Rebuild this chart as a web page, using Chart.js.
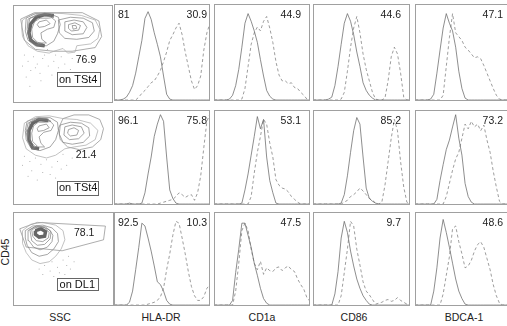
<!DOCTYPE html>
<html>
<head>
<meta charset="utf-8">
<script src="https://cdn.jsdelivr.net/npm/chart.js@4.4.1/dist/chart.umd.min.js"></script>
<style>
  body { margin: 0; width: 507px; height: 326px; overflow: hidden; position: relative; background: #fff;
         font-family: "Liberation Sans", Arial, sans-serif; }
  canvas { position: absolute; }
  .axlab { position: absolute; font-size: 10.5px; color: #222; transform: translate(-50%, -50%); white-space: nowrap; }
  .rot { transform: translate(-50%, -50%) rotate(-90deg); }
</style>
</head>
<body>
<script>
// ---- data ----
const bins = Array.from({ length: 32 }, (_, i) => i);
const markers = ['HLA-DR', 'CD1a', 'CD86', 'BDCA-1'];
const gates = ['on TSt4', 'on TSt4', 'on DL1'];
const gateValues = ['76.9', '21.4', '78.1'];

// percentages written in the histogram panels, per row
const leftValues = ['81', '96.1', '92.5'];
const rightValues = [
  ['30.9', '44.9', '44.6', '47.1'],
  ['75.8', '53.1', '85.2', '73.2'],
  ['10.3', '47.5', '9.7', '48.6']
];

// histogram counts (solid = control, dashed = stained), normalised 0..1
const r1HlaSolid = [0,0,0,0.01,0.03,0.08,0.15,0.28,0.45,0.62,0.85,0.92,0.84,0.7,0.58,0.45,0.25,0.06,0.01,0,0,0,0,0,0,0,0,0,0,0,0,0];
const r1HlaDash  = [0,0,0,0,0,0,0,0,0.03,0.07,0.1,0.14,0.18,0.2,0.25,0.31,0.4,0.5,0.62,0.68,0.75,0.8,0.68,0.5,0.35,0.2,0.11,0.15,0.25,0.52,0.7,0.8];
const r1Cd1aSolid = [0,0,0,0,0,0.01,0.05,0.15,0.32,0.55,0.8,0.9,0.82,0.72,0.6,0.42,0.25,0.1,0.04,0.01,0,0,0,0,0,0,0,0,0,0,0,0];
const r1Cd1aDash  = [0,0,0,0,0,0,0,0,0,0.01,0.12,0.35,0.58,0.7,0.76,0.72,0.82,0.87,0.75,0.6,0.4,0.26,0.2,0.2,0.17,0.18,0.13,0.12,0.08,0.05,0.01,0];
const r1Cd86Solid = [0,0,0,0,0,0.01,0.03,0.15,0.35,0.58,0.8,0.9,0.82,0.68,0.5,0.35,0.18,0.1,0.05,0.02,0,0,0,0,0,0,0,0,0,0,0,0];
const r1Cd86Dash  = [0,0,0,0,0,0,0,0,0,0.01,0.08,0.3,0.55,0.75,0.87,0.7,0.48,0.32,0.2,0.08,0.01,0,0,0.02,0.2,0.45,0.55,0.48,0.28,0.03,0,0];
const r1BdcaSolid = [0,0,0,0,0,0.01,0.06,0.28,0.52,0.75,0.9,0.8,0.72,0.55,0.3,0.12,0.02,0,0,0,0,0,0,0,0,0,0,0,0,0,0,0];
const r1BdcaDash  = [0,0,0,0,0,0,0,0,0,0.05,0.35,0.65,0.9,0.7,0.66,0.62,0.55,0.52,0.48,0.44,0.45,0.43,0.36,0.28,0.2,0.12,0.05,0.01,0,0,0,0];

const r2HlaSolid = [0,0,0,0,0,0.01,0,0,0,0.01,0.12,0.32,0.5,0.72,0.85,0.95,0.88,0.5,0.15,0.06,0.01,0,0,0,0,0,0,0,0,0,0,0];
const r2HlaDash  = [0,0,0,0,0,0,0,0,0,0,0,0,0,0,0,0.01,0.02,0.03,0.04,0.05,0.08,0.12,0.1,0.07,0.09,0.1,0.04,0.12,0.3,0.6,0.88,0.96];
const r2Cd1aSolid = [0,0,0,0,0,0,0,0,0,0.01,0.15,0.32,0.52,0.72,0.93,0.8,0.9,0.5,0.25,0.12,0.01,0,0,0,0,0,0,0,0,0,0,0];
const r2Cd1aDash  = [0,0,0,0,0,0,0,0,0,0,0,0,0.08,0.33,0.55,0.72,0.9,0.85,0.65,0.5,0.26,0.2,0.17,0.16,0.13,0.08,0.05,0.02,0,0,0,0];
const r2Cd86Solid = [0,0,0,0,0,0,0,0,0,0.01,0.1,0.3,0.55,0.78,0.92,0.85,0.5,0.17,0.06,0.03,0.01,0,0,0,0,0,0,0,0,0,0,0];
const r2Cd86Dash  = [0,0,0,0,0,0,0,0,0,0,0.02,0.04,0.08,0.1,0.13,0.17,0.14,0.1,0.06,0.04,0.01,0,0.02,0.2,0.45,0.7,0.9,0.78,0.45,0.18,0.02,0];
const r2BdcaSolid = [0,0,0,0,0,0,0,0.05,0.25,0.42,0.58,0.68,0.82,0.95,0.7,0.52,0.22,0.08,0.02,0,0,0,0,0,0,0,0,0,0,0,0,0];
const r2BdcaDash  = [0,0,0,0,0,0,0,0,0,0,0.08,0.22,0.36,0.48,0.55,0.7,0.85,0.8,0.88,0.82,0.85,0.78,0.84,0.68,0.55,0.35,0.18,0.03,0,0,0,0];

const r3HlaSolid = [0,0,0,0,0,0.03,0.15,0.38,0.62,0.88,0.85,0.72,0.58,0.42,0.25,0.22,0.15,0.05,0.01,0,0,0,0,0,0,0,0,0,0,0,0,0];
const r3HlaDash  = [0,0,0,0,0,0,0,0,0,0,0,0.01,0.02,0.03,0.05,0.09,0.18,0.38,0.55,0.75,0.9,0.88,0.72,0.55,0.36,0.2,0.1,0.05,0.05,0.09,0.18,0.22];
const r3Cd1aSolid = [0,0,0,0,0,0,0.05,0.35,0.6,0.88,0.88,0.75,0.62,0.45,0.32,0.18,0.07,0.02,0,0,0,0,0,0,0,0,0,0,0,0,0,0];
const r3Cd1aDash  = [0,0,0,0,0,0,0,0.15,0.45,0.8,0.88,0.8,0.6,0.45,0.38,0.47,0.33,0.4,0.37,0.36,0.4,0.41,0.37,0.4,0.42,0.38,0.36,0.28,0.22,0.17,0.08,0.04];
const r3Cd86Solid = [0,0,0,0,0,0,0,0.12,0.36,0.72,0.9,0.78,0.58,0.42,0.28,0.18,0.1,0.05,0.01,0,0,0,0,0,0,0,0,0,0,0,0,0];
const r3Cd86Dash  = [0,0,0,0,0,0,0,0,0,0.1,0.35,0.6,0.9,0.85,0.6,0.43,0.25,0.15,0.11,0.06,0.01,0.02,0.03,0.05,0.06,0.04,0.05,0.08,0.05,0.03,0.01,0];
const r3BdcaSolid = [0,0,0,0,0,0,0.15,0.4,0.72,0.92,0.78,0.62,0.45,0.28,0.15,0.07,0.01,0,0,0,0,0,0,0,0,0,0,0,0,0,0,0];
const r3BdcaDash  = [0,0,0,0,0,0,0,0,0,0.12,0.32,0.52,0.82,0.85,0.68,0.55,0.4,0.42,0.48,0.58,0.65,0.68,0.62,0.5,0.38,0.22,0.1,0.02,0,0,0,0];

const histRows = [
  [[r1HlaSolid, r1HlaDash], [r1Cd1aSolid, r1Cd1aDash], [r1Cd86Solid, r1Cd86Dash], [r1BdcaSolid, r1BdcaDash]],
  [[r2HlaSolid, r2HlaDash], [r2Cd1aSolid, r2Cd1aDash], [r2Cd86Solid, r2Cd86Dash], [r2BdcaSolid, r2BdcaDash]],
  [[r3HlaSolid, r3HlaDash], [r3Cd1aSolid, r3Cd1aDash], [r3Cd86Solid, r3Cd86Dash], [r3BdcaSolid, r3BdcaDash]]
];

const r1Gate = [[4,9],[19,2],[71,2],[89,11],[92,28],[85,40],[60,44],[40,44],[20,42],[8,32],[4,9]];
const r1Loops = [
  [[6,10],[15,4],[30,2],[50,3],[70,5],[85,10],[90,20],[88,30],[80,36],[65,38],[63,45],[55,46],[50,41],[40,44],[35,46],[22,44],[12,38],[6,28],[5,18],[6,10]],
  [[10,8],[20,3],[35,3],[45,7],[47,15],[44,25],[40,33],[32,38],[20,38],[12,32],[9,22],[10,8]],
  [[14,8],[24,5],[36,6],[42,11],[40,18],[33,20],[26,24],[27,31],[32,35],[20,35],[14,28],[12,18],[14,8]],
  [[12,9],[22,4],[34,4],[40,7],[34,8],[25,8],[19,12],[16,20],[17,29],[22,34],[28,36],[20,37],[13,30],[11,20],[12,9]],
  [[24,12],[32,10],[36,14],[30,17],[24,18],[22,15],[24,12]],
  [[45,10],[58,7],[72,8],[82,13],[84,22],[78,29],[65,31],[52,30],[46,24],[45,10]],
  [[52,12],[62,10],[72,12],[76,18],[72,25],[60,26],[52,22],[52,12]],
  [[56,15],[63,13],[69,16],[67,21],[59,22],[56,19],[56,15]],
  [[60,16],[64,16],[65,19],[61,20],[60,16]]
];
const r1Ridge = [[40,5],[30,4],[21,7],[15,14],[13,24],[15,32],[22,37],[30,38]];
const r1Dots = [[8,48],[12,55],[18,50],[22,58],[28,52],[34,60],[40,55],[15,65],[45,62],[25,68],[52,58],[10,72],[38,70],[30,48],[48,50],[20,62],[58,64],[6,60],[42,48],[33,42],[60,52],[26,76],[14,82]];

const r2Gate = [[50,5],[62,1],[78,1],[90,6],[94,16],[91,28],[82,36],[68,39],[55,36],[47,28],[45,16],[50,5]];
const r2Loops = [
  [[8,10],[20,3],[35,2],[50,5],[65,6],[80,10],[88,18],[85,28],[75,34],[62,36],[52,38],[42,45],[32,48],[20,45],[10,38],[6,26],[8,10]],
  [[11,8],[22,4],[36,4],[44,9],[45,18],[42,28],[36,36],[25,40],[15,37],[10,28],[9,18],[11,8]],
  [[14,9],[24,6],[35,7],[40,12],[37,18],[29,20],[24,25],[26,32],[30,36],[20,36],[14,29],[12,19],[14,9]],
  [[12,10],[21,5],[32,5],[37,8],[31,9],[23,9],[18,13],[16,21],[17,30],[22,35],[18,37],[12,30],[10,20],[12,10]],
  [[24,13],[32,11],[35,15],[29,18],[23,19],[22,16],[24,13]],
  [[47,12],[58,9],[70,10],[78,15],[79,24],[72,31],[60,33],[50,31],[46,22],[47,12]],
  [[52,14],[60,12],[70,14],[73,21],[67,27],[57,28],[51,23],[52,14]],
  [[56,17],[62,15],[67,18],[65,23],[58,24],[55,21],[56,17]]
];
const r2Ridge = [[34,7],[24,6],[17,10],[13,18],[13,28],[17,37],[24,38]];
const r2Dots = [[8,46],[14,52],[20,48],[26,55],[32,50],[38,58],[44,52],[16,62],[48,60],[28,64],[54,56],[12,68],[36,66],[60,48],[22,72],[42,70],[6,56],[50,44]];

const r3Gate = [[3,8],[22,1],[96,5],[94,20],[49,32],[10,28],[3,8]];
const r3Loops = [
  [[6,10],[15,3],[28,1],[42,4],[50,10],[52,20],[48,30],[42,38],[35,44],[25,46],[16,42],[10,34],[6,24],[6,10]],
  [[9,10],[17,5],[28,4],[38,7],[44,13],[45,22],[40,30],[33,36],[24,38],[16,34],[11,26],[9,18],[9,10]],
  [[12,10],[19,6],[28,6],[35,9],[39,15],[38,22],[33,28],[25,31],[18,28],[13,21],[12,10]],
  [[14,9],[21,5],[31,6],[37,11],[36,19],[30,25],[22,26],[16,21],[14,9]],
  [[16,9],[22,6],[30,7],[35,12],[34,18],[28,22],[21,21],[17,16],[16,9]]
];
const r3Ridge = [[20,10],[26,8],[31,11],[30,16],[24,17],[20,14],[20,10]];
const r3Dots = [[30,48],[38,44],[44,50],[50,42],[54,48],[36,54],[46,56],[56,38],[24,52],[40,60],[58,52],[28,58],[52,58],[62,44]];

const contourRows = [
  { gate: r1Gate, loops: r1Loops, ridge: r1Ridge, dots: r1Dots },
  { gate: r2Gate, loops: r2Loops, ridge: r2Ridge, dots: r2Dots },
  { gate: r3Gate, loops: r3Loops, ridge: r3Ridge, dots: r3Dots }
];

// ---- layout ----
const histCols = [{ x: 114, w: 96 }, { x: 214, w: 96 }, { x: 313, w: 97 }, { x: 415, w: 97 }];
const histRowsPos = [{ y: 4, h: 97 }, { y: 110, h: 95 }, { y: 212, h: 94 }];
const rightInset = [3, 9, 9, 9];
// yMin shifts the drawn data so the frame can sit where the picture has it
const contourPos = [
  { x: 13, y: 5, w: 100, h: 98, yMin: -2, val: [75, 54], box: [43, 67, 47, 15] },
  { x: 13, y: 110, w: 100, h: 95, yMin: 0, val: [75, 45], box: [44, 73, 45, 15] },
  { x: 13, y: 212, w: 101, h: 94, yMin: -6, val: [73, 13], box: [43, 62, 45, 13] }
];

const FONT = '"Liberation Sans", Arial, sans-serif';

const frame = {
  id: 'frame',
  afterDraw(chart) {
    const ctx = chart.ctx;
    ctx.save();
    ctx.strokeStyle = '#a0a0a0';
    ctx.lineWidth = 1;
    ctx.strokeRect(0.5, 0.5, chart.width - 1, chart.height - 1);
    ctx.restore();
  }
};

const panelText = {
  id: 'panelText',
  afterDraw(chart, args, opts) {
    const ctx = chart.ctx;
    ctx.save();
    ctx.fillStyle = '#222';
    ctx.font = '10.5px ' + FONT;
    ctx.textBaseline = 'middle';
    (opts.items || []).forEach(it => {
      ctx.textAlign = it.align;
      ctx.fillText(it.text, it.x, it.y);
    });
    (opts.boxes || []).forEach(b => {
      const xs = chart.scales.x, ys = chart.scales.y;
      const x0 = xs.getPixelForValue(b.r[0]), y0 = ys.getPixelForValue(b.r[1]);
      const x1 = xs.getPixelForValue(b.r[0] + b.r[2]), y1 = ys.getPixelForValue(b.r[1] + b.r[3]);
      ctx.fillStyle = '#fff';
      ctx.fillRect(x0, y0, x1 - x0, y1 - y0);
      ctx.strokeStyle = '#666';
      ctx.lineWidth = 1;
      ctx.strokeRect(Math.round(x0) + 0.5, Math.round(y0) + 0.5, Math.round(x1 - x0), Math.round(y1 - y0));
      ctx.fillStyle = '#111';
      ctx.font = '11px ' + FONT;
      ctx.textAlign = 'center';
      ctx.fillText(b.text, (x0 + x1) / 2, (y0 + y1) / 2 + 0.5);
    });
    (opts.values || []).forEach(v => {
      ctx.fillStyle = '#222';
      ctx.font = '10.5px ' + FONT;
      ctx.textAlign = 'center';
      ctx.fillText(v.text, chart.scales.x.getPixelForValue(v.at[0]), chart.scales.y.getPixelForValue(v.at[1]));
    });
    ctx.restore();
  }
};

function makeCanvas(x, y, w, h) {
  const cv = document.createElement('canvas');
  cv.width = w; cv.height = h;
  cv.style.left = x + 'px'; cv.style.top = y + 'px';
  document.body.appendChild(cv);
  return cv;
}

const baseOpts = {
  responsive: false,
  animation: false,
  events: [],
  layout: { padding: 0 }
};

// histograms
histRows.forEach((row, ri) => {
  row.forEach((pair, ci) => {
    const c = histCols[ci], r = histRowsPos[ri];
    const items = [{ text: rightValues[ri][ci], x: c.w - rightInset[ci], y: 11, align: 'right' }];
    if (ci === 0) items.push({ text: leftValues[ri], x: 4, y: 11, align: 'left' });
    new Chart(makeCanvas(c.x, r.y, c.w, r.h), {
      type: 'line',
      data: {
        labels: bins,
        datasets: [
          { data: pair[0], borderColor: '#686868', borderWidth: 0.75, pointRadius: 0, tension: 0 },
          { data: pair[1], borderColor: '#7c7c7c', borderWidth: 0.75, borderDash: [3, 2.5], pointRadius: 0, tension: 0 }
        ]
      },
      options: Object.assign({}, baseOpts, {
        plugins: { legend: { display: false }, tooltip: { enabled: false }, panelText: { items } },
        scales: {
          x: { display: false },
          y: { display: false, min: -0.01, max: 1 }
        }
      }),
      plugins: [frame, panelText]
    });
  });
});

// contour plots
const toXY = pts => pts.map(p => ({ x: p[0], y: p[1] }));
contourRows.forEach((cr, ri) => {
  const p = contourPos[ri];
  const sets = [];
  cr.loops.forEach((loop, li) => sets.push({
    data: toXY(loop), showLine: true, pointRadius: 0, borderWidth: 0.7,
    borderColor: li === 0 ? '#a8a8a8' : '#808080'
  }));
  sets.push({ data: toXY(cr.ridge), showLine: true, pointRadius: 0, borderWidth: 3.5, borderColor: '#666' });
  sets.push({ data: toXY(cr.ridge), showLine: true, pointRadius: 0, borderWidth: 1.3, borderColor: '#222' });
  sets.push({ data: toXY(cr.gate), showLine: true, pointRadius: 0, borderWidth: 0.7, borderColor: '#8a8a8a' });
  sets.push({ data: toXY(cr.dots), showLine: false, pointRadius: 0.5, borderWidth: 0, backgroundColor: '#a0a0a0' });
  new Chart(makeCanvas(p.x, p.y, p.w, p.h), {
    type: 'scatter',
    data: { datasets: sets },
    options: Object.assign({}, baseOpts, {
      plugins: {
        legend: { display: false }, tooltip: { enabled: false },
        panelText: {
          values: [{ text: gateValues[ri], at: p.val }],
          boxes: [{ text: gates[ri], r: p.box }]
        }
      },
      scales: {
        x: { type: 'linear', display: false, min: 0, max: p.w },
        y: { type: 'linear', display: false, min: p.yMin, max: p.yMin + p.h, reverse: true }
      }
    }),
    plugins: [frame, panelText]
  });
});

// axis labels
const axisLabels = [
  { text: 'SSC', x: 60, y: 317 },
  { text: markers[0], x: 161, y: 317 },
  { text: markers[1], x: 262, y: 317 },
  { text: markers[2], x: 354, y: 317 },
  { text: markers[3], x: 464, y: 317 }
];
axisLabels.forEach(l => {
  const d = document.createElement('div');
  d.className = 'axlab';
  d.textContent = l.text;
  d.style.left = l.x + 'px'; d.style.top = l.y + 'px';
  document.body.appendChild(d);
});
const yl = document.createElement('div');
yl.className = 'axlab rot';
yl.textContent = 'CD45';
yl.style.left = '5px'; yl.style.top = '252px';
document.body.appendChild(yl);
</script>
</body>
</html>
